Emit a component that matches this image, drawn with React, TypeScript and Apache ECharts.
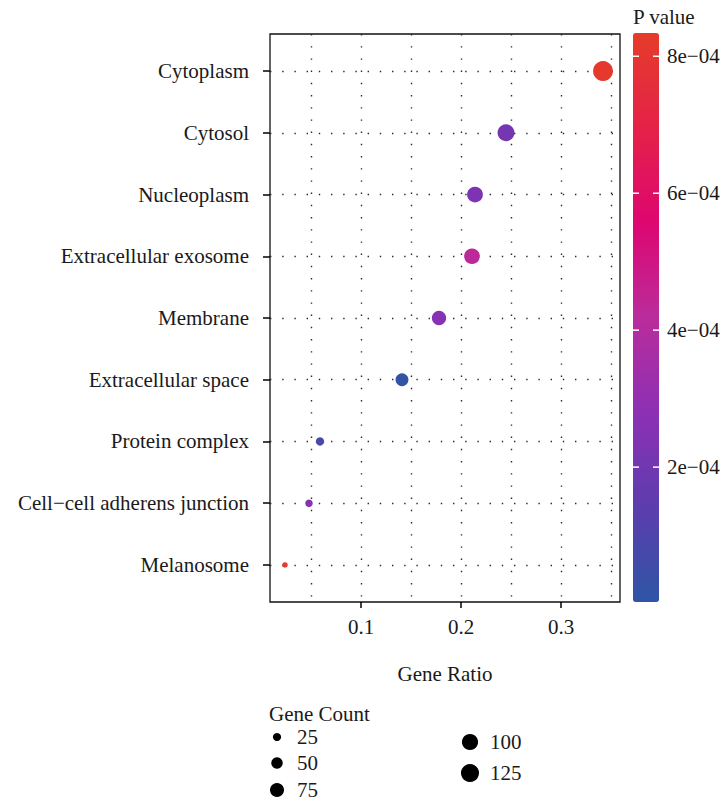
import React, { useEffect, useRef } from "react";
import * as echarts from "echarts";

const categories = [
  "Cytoplasm",
  "Cytosol",
  "Nucleoplasm",
  "Extracellular exosome",
  "Membrane",
  "Extracellular space",
  "Protein complex",
  "Cell\u2212cell adherens junction",
  "Melanosome",
];
const geneRatio = [0.342, 0.245, 0.214, 0.211, 0.178, 0.141, 0.059, 0.048, 0.024];
const geneCount = [152, 109, 95, 94, 79, 63, 26, 21, 11];
const pValue = [8.2e-4, 2.1e-4, 2.35e-4, 4.25e-4, 2.6e-4, 1.5e-5, 0.8e-4, 2.6e-4, 8.34e-4];

const xMajorTicks = [0.1, 0.2, 0.3];
const xGridTicks = [0.05, 0.1, 0.15, 0.2, 0.25, 0.3, 0.35];
const pTicks = [8e-4, 6e-4, 4e-4, 2e-4];
const pTickLabels = ["8e\u221204", "6e\u221204", "4e\u221204", "2e\u221204"];
const countLegend = [25, 50, 75, 100, 125];

const P_MIN = 3e-6;
const P_MAX = 8.34e-4;
const X_MIN = 0.009;
const X_MAX = 0.359;

const FONT = "'Liberation Serif', 'DejaVu Serif', serif";
const FS = 21;
const TXT = "#1a1a1a";

const sizeOf = (count: number) => 2 * Math.sqrt(0.65 * count + 0.5);

const dotted = { color: "#2a2a2a", width: 1.4, type: [1.4, 10.8] as number[] };

export default function App() {
  const ref = useRef<HTMLDivElement>(null);
  useEffect(() => {
    document.body.style.margin = "0";
    document.body.style.overflow = "hidden";
    if (!ref.current) return;
    const chart = echarts.init(ref.current, null, { renderer: "svg" });

    const data = categories.map((c, i) => [geneRatio[i], i, pValue[i], geneCount[i], c]);

    const cbLeft = 633, cbTop = 33, cbW = 26, cbH = 569;
    const pToY = (p: number) => cbTop + ((P_MAX - p) / (P_MAX - P_MIN)) * cbH;

    const graphics: any[] = [];
    graphics.push({
      type: "text",
      x: cbLeft,
      y: 17,
      style: { text: "P value", font: `${FS}px ${FONT}`, fill: TXT, verticalAlign: "middle" },
    });
    pTicks.forEach((p, i) => {
      const y = pToY(p);
      graphics.push({
        type: "line",
        z: 100,
        shape: { x1: cbLeft, y1: y, x2: cbLeft + 6, y2: y },
        style: { stroke: "#fff", lineWidth: 1.5 },
      });
      graphics.push({
        type: "line",
        z: 100,
        shape: { x1: cbLeft + cbW - 6, y1: y, x2: cbLeft + cbW, y2: y },
        style: { stroke: "#fff", lineWidth: 1.5 },
      });
      graphics.push({
        type: "text",
        x: 667,
        y,
        style: { text: pTickLabels[i], font: `${FS}px ${FONT}`, fill: TXT, verticalAlign: "middle" },
      });
    });

    graphics.push({
      type: "text",
      x: 269,
      y: 714,
      style: { text: "Gene Count", font: `${FS}px ${FONT}`, fill: TXT, verticalAlign: "middle" },
    });
    const legendPos = [
      [277, 737],
      [277, 763],
      [277, 790],
      [470, 742],
      [470, 773],
    ];
    countLegend.forEach((c, i) => {
      const [cx, cy] = legendPos[i];
      graphics.push({
        type: "circle",
        shape: { cx, cy, r: sizeOf(c) / 2 },
        style: { fill: "#000" },
      });
      graphics.push({
        type: "text",
        x: cx + 20,
        y: cy,
        style: { text: String(c), font: `${FS}px ${FONT}`, fill: TXT, verticalAlign: "middle" },
      });
    });

    chart.setOption({
      animation: false,
      backgroundColor: "#fff",
      textStyle: { fontFamily: FONT },
      grid: {
        left: 270,
        top: 34,
        width: 350,
        height: 568,
        show: true,
        borderColor: "#111",
        borderWidth: 1.3,
        backgroundColor: "transparent",
      },
      xAxis: [
        {
          type: "value",
          min: X_MIN,
          max: X_MAX,
          axisLine: { show: false },
          axisTick: { show: false, customValues: xGridTicks },
          axisLabel: { show: false, customValues: xGridTicks },
          splitLine: { show: true, lineStyle: dotted },
        },
        {
          type: "value",
          position: "bottom",
          min: X_MIN,
          max: X_MAX,
          axisLine: { show: false },
          axisTick: {
            show: true,
            customValues: xMajorTicks,
            length: 6,
            lineStyle: { color: "#000", width: 1.5 },
          },
          axisLabel: {
            show: true,
            customValues: xMajorTicks,
            margin: 14,
            fontSize: FS,
            fontFamily: FONT,
            color: TXT,
          },
          splitLine: { show: false },
          name: "Gene Ratio",
          nameLocation: "middle",
          nameGap: 61,
          nameTextStyle: { fontSize: FS, fontFamily: FONT, color: TXT },
        },
      ],
      yAxis: {
        type: "value",
        inverse: true,
        min: -0.6,
        max: 8.6,
        axisLine: { show: false },
        axisTick: {
          show: true,
          customValues: categories.map((_, i) => i),
          length: 7,
          lineStyle: { color: "#000", width: 1.5 },
        },
        axisLabel: {
          show: true,
          customValues: categories.map((_, i) => i),
          formatter: (v: number) => categories[Math.round(v)] ?? "",
          margin: 21,
          fontSize: FS,
          fontFamily: FONT,
          color: TXT,
        },
        splitLine: { show: true, lineStyle: dotted },
      },
      visualMap: {
        type: "continuous",
        min: P_MIN,
        max: P_MAX,
        dimension: 2,
        seriesIndex: 0,
        calculable: false,
        hoverLink: false,
        orient: "vertical",
        left: cbLeft,
        top: cbTop,
        itemWidth: cbW,
        itemHeight: cbH,
        padding: 0,
        text: null,
        showLabel: false,
        inRange: {
          color: ["#2E55A5", "#5D3DAE", "#8D30B4", "#BA2C9C", "#DE0670", "#E42248", "#E53C2A"],
        },
      },
      series: [
        {
          type: "scatter",
          xAxisIndex: 0,
          yAxisIndex: 0,
          data,
          symbolSize: (val: number[]) => sizeOf(val[3]),
          itemStyle: { opacity: 1 },
          z: 10,
        },
      ],
      graphic: graphics,
    });

    return () => chart.dispose();
  }, []);

  return <div ref={ref} style={{ width: 723, height: 807 }} />;
}
